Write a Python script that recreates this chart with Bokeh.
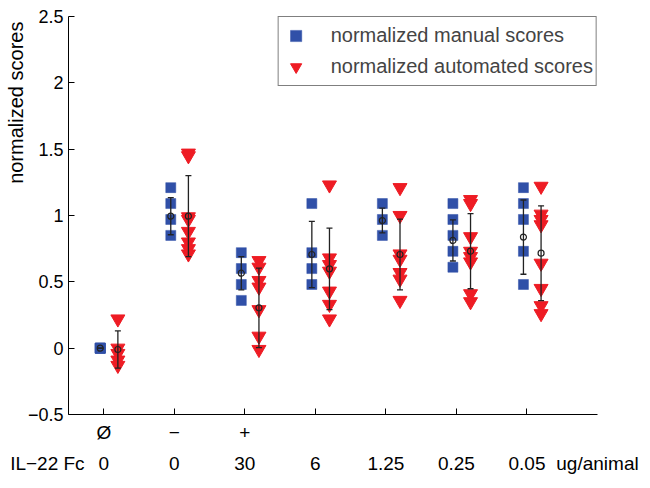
from bokeh.plotting import figure
from bokeh.models import FixedTicker, Range1d, CustomJSTickFormatter, LinearAxis
from bokeh.embed import file_html
from bokeh.resources import INLINE

# ---- data ----
dose_labels = ["0", "0", "30", "6", "1.25", "0.25", "0.05"]
condition_labels = ["Ø", "−", "+", "", "", "", ""]
dose_unit = "ug/animal"
row_title = "IL−22 Fc"
y_title = "normalized scores"
y_ticks = [-0.5, 0, 0.5, 1, 1.5, 2, 2.5]

manual_scores = [
    [0.0, 0.0, 0.0, 0.0],
    [1.21, 1.09, 0.97, 0.85],
    [0.72, 0.60, 0.48, 0.36],
    [1.09, 0.72, 0.60, 0.48],
    [1.09, 0.97, 0.85],
    [1.09, 0.97, 0.85, 0.73, 0.61],
    [1.21, 1.09, 0.97, 0.73, 0.48],
]
auto_scores = [
    [0.22, 0.0, -0.04, -0.09, -0.13],
    [1.47, 1.45, 0.99, 0.97, 0.88, 0.80, 0.75, 0.71],
    [0.66, 0.61, 0.51, 0.46, 0.29, 0.09, -0.01],
    [1.23, 0.68, 0.63, 0.58, 0.43, 0.33, 0.22],
    [1.21, 1.00, 0.71, 0.67, 0.57, 0.52, 0.36],
    [1.12, 1.09, 0.84, 0.73, 0.69, 0.65, 0.41, 0.35],
    [1.22, 1.01, 0.97, 0.93, 0.64, 0.45, 0.32, 0.26],
]
manual_mean = [0.0, 0.995, 0.565, 0.706, 0.962, 0.812, 0.837]
manual_sd = [0.0, 0.14, 0.125, 0.25, 0.093, 0.155, 0.28]
auto_mean = [-0.01, 0.995, 0.304, 0.598, 0.706, 0.731, 0.716]
auto_sd = [0.14, 0.305, 0.30, 0.307, 0.267, 0.283, 0.357]

FONT = "Liberation Sans"
BLUE = "#3050a8"
RED = "#ee1c24"
ERR = "#222222"

groups = list(range(1, len(dose_labels) + 1))
off_manual, off_auto = -0.05, 0.2
x_lo, x_hi = 0.5, 8.0

mx, my = [], []
for g, vals in zip(groups, manual_scores):
    mx += [g + off_manual] * len(vals)
    my += vals
ax, ay = [], []
for g, vals in zip(groups, auto_scores):
    ax += [g + off_auto] * len(vals)
    ay += vals

p = figure(width=646, height=484, x_range=Range1d(x_lo, x_hi), y_range=Range1d(y_ticks[0], y_ticks[-1]),
           output_backend="svg", toolbar_location=None, title=None,
           min_border_left=68, min_border_right=49, min_border_top=16, min_border_bottom=70)
p.outline_line_color = None
p.xgrid.visible = False
p.ygrid.visible = False
p.background_fill_color = "white"
p.border_fill_color = "white"

p.scatter(mx, my, marker="square", size=10, fill_color=BLUE, line_color=BLUE, line_alpha=0.5,
          legend_label="normalized manual scores")
p.scatter(ax, ay, marker="inverted_triangle", size=14, fill_color=RED, line_color=RED,
          legend_label="normalized automated scores")

# error bars (mean ± sd)
for off, means, sds in ((off_manual, manual_mean, manual_sd), (off_auto, auto_mean, auto_sd)):
    xs = [g + off for g in groups]
    lo = [m - s for m, s in zip(means, sds)]
    hi = [m + s for m, s in zip(means, sds)]
    p.segment(xs, lo, xs, hi, line_color=ERR, line_width=1.3)
    p.scatter(xs + xs, lo + hi, marker="dash", size=6, line_color=ERR, line_width=1.3)
    p.scatter(xs, means, marker="circle", size=6, fill_color=None, line_color=ERR, line_width=1.2)

# ---- primary x axis: ticks + condition row ----
xa = p.xaxis[0]
xa.axis_label = None
xa.ticker = FixedTicker(ticks=groups)
xa.major_label_overrides = {g: lab for g, lab in zip(groups, condition_labels)}
xa.major_tick_in = 6
xa.major_tick_out = 0
xa.minor_tick_line_color = None
xa.major_label_standoff = 7
xa.major_label_text_font = FONT
xa.major_label_text_font_size = "19px"
xa.major_label_text_color = "black"
xa.axis_line_color = "black"

# ---- second x axis: dose row (with row title and unit) ----
pad = "\u00a0" * 8
dose_ticks = [x_lo] + groups + [x_hi]
dose_text = [row_title + pad] + dose_labels + [dose_unit]
dose_axis = LinearAxis(ticker=FixedTicker(ticks=dose_ticks), axis_label=None,
                       major_label_overrides={t: s for t, s in zip(dose_ticks, dose_text)},
                       axis_line_color=None, major_tick_line_color=None, minor_tick_line_color=None,
                       major_label_standoff=1, major_label_text_font=FONT,
                       major_label_text_font_size="19px", major_label_text_color="black")
p.add_layout(dose_axis, "below")

# ---- y axis ----
ya = p.yaxis[0]
ya.axis_label = None
ya.ticker = FixedTicker(ticks=y_ticks)
ya.formatter = CustomJSTickFormatter(code="return (tick < 0 ? '\\u2212' : '') + Math.abs(tick).toString();")
ya.major_tick_in = 6
ya.major_tick_out = 0
ya.minor_tick_line_color = None
ya.major_label_standoff = 5
ya.major_label_text_font = FONT
ya.major_label_text_font_size = "18px"
ya.major_label_text_color = "black"
ya.axis_line_color = "black"

# y title placed in the upper part of the axis, like the reference
ytitle_axis = LinearAxis(ticker=FixedTicker(ticks=[1.85]), axis_label=None,
                         formatter=CustomJSTickFormatter(args=dict(t=y_title), code="return t;"),
                         major_label_orientation="parallel",
                         axis_line_color=None, major_tick_line_color=None, minor_tick_line_color=None,
                         major_label_standoff=-9, major_label_text_font=FONT,
                         major_label_text_font_size="20px", major_label_text_color="black")
p.add_layout(ytitle_axis, "left")

lg = p.legend[0]
lg.location = "top_right"
lg.margin = 0
lg.padding = 3
lg.spacing = 0
lg.glyph_width = 28
lg.glyph_height = 31
lg.label_height = 31
lg.label_standoff = 21
lg.label_text_font = FONT
lg.label_text_font_size = "20px"
lg.border_line_color = "black"
lg.border_line_width = 1
lg.background_fill_alpha = 1

open("out.html", "w").write(file_html(p, INLINE))
